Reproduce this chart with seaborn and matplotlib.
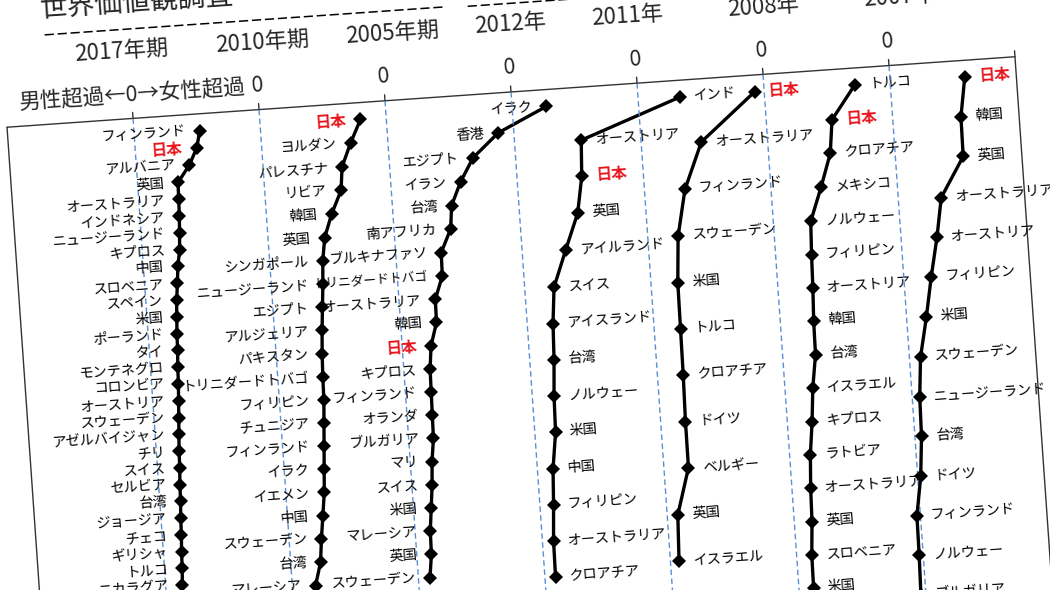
import seaborn as sns
import matplotlib.pyplot as plt
import matplotlib.transforms as mtransforms

# 男女差（女性 − 男性）を国別に並べたもの、値は読み取りの推定
headers = ['2017年期', '2010年期', '2005年期', '2012年', '2011年', '2008年', '2007年']

c2017 = ['フィンランド', '日本', 'アルバニア', '英国', 'オーストラリア', 'インドネシア',
         'ニュージーランド', 'キプロス', '中国', 'スロベニア', 'スペイン', '米国',
         'ポーランド', 'タイ', 'モンテネグロ', 'コロンビア', 'オーストリア', 'スウェーデン',
         'アゼルバイジャン', 'チリ', 'スイス', 'セルビア', '台湾', 'ジョージア', 'チェコ',
         'ギリシャ', 'トルコ', 'ニカラグア']
v2017 = [13.0, 12.2, 10.5, 8.0, 7.9, 7.8, 7.6, 7.4, 6.8, 6.5, 6.1, 5.9, 5.7, 5.6,
         5.4, 5.3, 5.1, 4.9, 4.7, 4.5, 4.4, 4.2, 4.1, 3.9, 3.8, 3.6, 3.5, 3.3]

c2010 = ['日本', 'ヨルダン', 'パレスチナ', 'リビア', '韓国', '英国', 'シンガポール',
         'ニュージーランド', 'エジプト', 'アルジェリア', 'パキスタン', 'トリニダードトバゴ',
         'フィリピン', 'チュニジア', 'フィンランド', 'イラク', 'イエメン', '中国',
         'スウェーデン', '台湾', 'マレーシア']
v2010 = [19.9, 17.6, 15.6, 15.1, 12.9, 11.2, 10.5, 10.2, 9.8, 9.4, 9.1, 8.9, 8.8,
         8.5, 8.2, 7.9, 7.6, 7.0, 6.4, 5.9, 4.6]

c2005 = ['イラク', '香港', 'エジプト', 'イラン', '台湾', '南アフリカ', 'ブルキナファソ',
         'トリニダードトバゴ', 'オーストラリア', '韓国', '日本', 'キプロス', 'フィンランド',
         'オランダ', 'ブルガリア', 'マリ', 'スイス', '米国', 'マレーシア', '英国', 'スウェーデン']
v2005 = [31.8, 21.9, 16.6, 13.8, 11.7, 11.2, 9.0, 8.9, 7.2, 7.1, 5.7, 5.2, 5.1, 5.0,
         4.9, 4.3, 4.0, 3.5, 3.0, 2.9, 2.3]

c2012 = ['インド', 'オーストリア', '日本', '英国', 'アイルランド', 'スイス', 'アイスランド',
         '台湾', 'ノルウェー', '米国', '中国', 'フィリピン', 'オーストラリア', 'クロアチア']
v2012 = [33.3, 13.2, 12.8, 11.5, 8.6, 5.8, 5.1, 4.8, 4.3, 4.1, 3.1, 2.7, 2.2, 2.1]

c2011 = ['日本', 'オーストラリア', 'フィンランド', 'スウェーデン', '米国', 'トルコ',
         'クロアチア', 'ドイツ', 'ベルギー', '英国', 'イスラエル']
v2011 = [23.1, 11.9, 8.0, 6.0, 5.3, 5.2, 5.1, 4.9, 4.85, 2.1, 1.7]

c2008 = ['トルコ', '日本', 'クロアチア', 'メキシコ', 'ノルウェー', 'フィリピン', 'オーストリア',
         '韓国', '台湾', 'イスラエル', 'キプロス', 'ラトビア', 'オーストラリア', '英国',
         'スロベニア', '米国']
v2008 = [18.0, 13.0, 12.2, 9.9, 7.4, 7.1, 6.9, 6.6, 6.5, 5.5, 4.9, 4.1, 3.7, 3.5, 3.0, 2.9]

c2007 = ['日本', '韓国', '英国', 'オーストラリア', 'オーストリア', 'フィリピン', '米国',
         'スウェーデン', 'ニュージーランド', '台湾', 'ドイツ', 'フィンランド', 'ノルウェー',
         'ブルガリア']
v2007 = [14.8, 13.5, 13.4, 8.5, 7.1, 5.4, 3.9, 2.2, 1.5, 1.3, 0.6, -0.7, -0.8, -1.0]

names = [c2017, c2010, c2005, c2012, c2011, c2008, c2007]
values = [v2017, v2010, v2005, v2012, v2011, v2008, v2007]

# layout (pixels of the un-rotated page)
W, H, DPI = 10.5, 5.9, 100
ANG = 4.0
FRAME_L, PITCH, TOP, ROW0, BOTTOM = 20, 126.3, 498.5, 481.7, -120
row_gap = [16.75, 23.1, 23.1, 36.2, 46.3, 33.3, 39.5]
label_left = [True, True, True, False, False, False, False]
hdr_dx = [-7, 8, 12, 4, -5, 5, 15]
UNITS = 25  # panel pitch in data units
# labels squeezed into a tight gap in the original
small_label = {(2, 'トリニダードトバゴ'): 9.2}

sns.set_theme(style='white')
plt.rcParams['font.family'] = ['Noto Sans CJK JP', 'DejaVu Sans']

fig = plt.figure(figsize=(W, H), dpi=DPI)
fig.patch.set_facecolor('white')
rot = (fig.dpi_scale_trans.inverted()
       + mtransforms.Affine2D().rotate_deg_around(W / 2, H / 2, ANG)
       + fig.dpi_scale_trans)

page = fig.add_axes([0, 0, 1, 1])
page.set_xlim(0, W * DPI)
page.set_ylim(0, H * DPI)
page.set_axis_off()
tp = page.transData + rot

right = FRAME_L + 8 * PITCH
frame_kw = dict(color='#333333', lw=1.0, transform=tp, clip_on=False)
page.plot([FRAME_L, right], [TOP, TOP], **frame_kw)
page.plot([FRAME_L, FRAME_L], [TOP, BOTTOM], **frame_kw)
page.plot([right, right], [TOP + 6, BOTTOM], **frame_kw)

page.text(61, 614, '世界価値観調査', fontsize=20, ha='left', va='center',
          transform=tp, rotation=ANG, rotation_mode='anchor')
dash_kw = dict(color='black', lw=1.1, ls=(0, (6, 2.5)), transform=tp, clip_on=False)
page.plot([64, 463], [588, 588], **dash_kw)
page.plot([488, 1045], [587, 587], **dash_kw)

for k in range(7):
    zero = FRAME_L + (k + 1) * PITCH
    ax = fig.add_axes([zero / (W * DPI), BOTTOM / (H * DPI),
                       PITCH / (W * DPI), (ROW0 - BOTTOM) / (H * DPI)])
    n = len(names[k])
    idx = list(range(n))
    tr = ax.transData + rot
    bl = mtransforms.blended_transform_factory(ax.transData, page.transData) + rot

    # zero line, tick and labels above the frame
    ax.plot([0, 0], [TOP, BOTTOM], color='#5b8fd4', lw=1.0, ls=(0, (4, 2.5)),
            transform=bl, clip_on=False)
    ax.plot([0, 0], [TOP, TOP + 6], color='#333333', lw=1.0, transform=bl, clip_on=False)
    zl = '男性超過←0→女性超過' if k == 0 else '0'
    ax.text(0, 522.5, zl, fontsize=15.5, ha='center', va='center',
            transform=bl, rotation=ANG, rotation_mode='anchor')
    hoff = mtransforms.ScaledTranslation(hdr_dx[k] / DPI, 0, fig.dpi_scale_trans)
    ax.text(0, 566, headers[k], fontsize=16, ha='center', va='center',
            transform=mtransforms.blended_transform_factory(ax.transData, page.transData)
            + hoff + rot, rotation=ANG, rotation_mode='anchor')

    sns.lineplot(x=values[k], y=idx, ax=ax, sort=False, estimator=None, orient='y',
                 color='black', lw=2.4, marker='D', markersize=7,
                 markeredgewidth=0, transform=tr, clip_on=False)

    pad = -0.14 if label_left[k] else 0.14
    lt = ax.transData + mtransforms.ScaledTranslation(pad, 0, fig.dpi_scale_trans) + rot
    for i, (nm, v) in enumerate(zip(names[k], values[k])):
        jp = nm == '日本'
        fs = 11.3 if jp else small_label.get((k, nm), 10.2)
        ax.text(v, i, nm, transform=lt, rotation=ANG, rotation_mode='anchor',
                ha='right' if label_left[k] else 'left', va='center',
                fontsize=fs,
                color='#e8141b' if jp else 'black',
                fontweight='bold' if jp else 'normal')

    ax.set_xlim(0, UNITS)
    ax.set_ylim((ROW0 - BOTTOM) / row_gap[k], 0)
    ax.set_axis_off()

fig.savefig('out.png', dpi=DPI, facecolor='white')
